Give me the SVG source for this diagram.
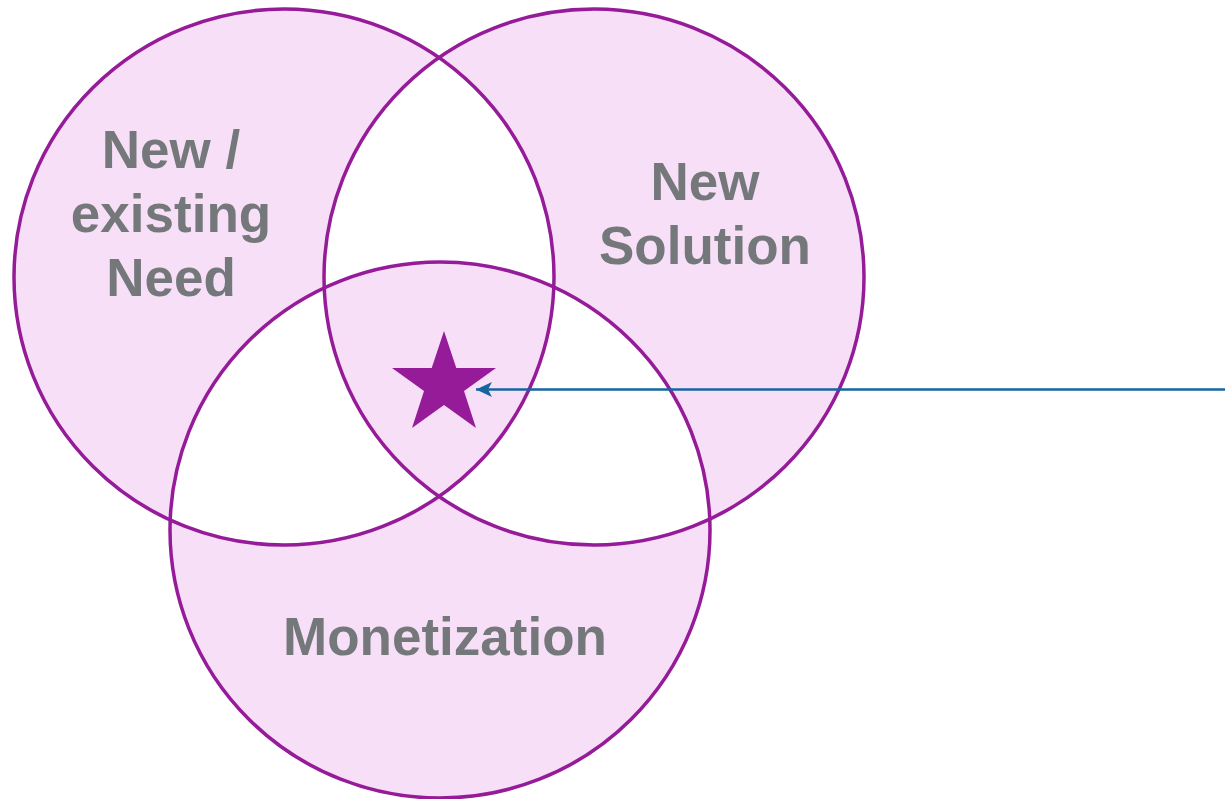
<svg xmlns="http://www.w3.org/2000/svg" width="1225" height="799" viewBox="0 0 1225 799">
<defs>
<style>
.lbl{font-family:"Liberation Sans",Arial,sans-serif;font-weight:bold;font-size:53px;fill:#75787b;text-anchor:middle}
.ring{fill:none;stroke:#951b99;stroke-width:3.5}
</style>
<marker id="ah" viewBox="0 0 10 10" refX="10" refY="5" markerWidth="16" markerHeight="15" markerUnits="userSpaceOnUse" orient="auto" preserveAspectRatio="none">
<path d="M0,0 L10,5 L0,10 L2.5,5 Z" fill="#1565a0"/>
</marker>
</defs>
<rect width="1225" height="799" fill="#ffffff"/>
<path fill="#f7dff8" fill-rule="evenodd" d="M14,277 a270,268 0 1,0 540,0 a270,268 0 1,0 -540,0 Z M324,277 a270,268 0 1,0 540,0 a270,268 0 1,0 -540,0 Z M170,530 a270,268 0 1,0 540,0 a270,268 0 1,0 -540,0 Z"/>
<g id="need">
<ellipse class="ring" cx="284" cy="277" rx="270" ry="268"/>
<text class="lbl" x="171" y="168">New /</text>
<text class="lbl" x="171" y="232">existing</text>
<text class="lbl" x="171" y="296">Need</text>
</g>
<g id="solution">
<ellipse class="ring" cx="594" cy="277" rx="270" ry="268"/>
<text class="lbl" x="705" y="200">New</text>
<text class="lbl" x="705" y="264">Solution</text>
</g>
<g id="monetization">
<ellipse class="ring" cx="440" cy="530" rx="270" ry="268"/>
<text class="lbl" x="445" y="655">Monetization</text>
</g>
<g id="star">
<polygon fill="#951b99" points="444,331 456.3,368 496,368 464,391 476,428 444,405 412,428 424,391 392,368 431.7,368"/>
</g>
<g id="connectors">
<line x1="1225" y1="389.5" x2="476" y2="389.5" stroke="#1565a0" stroke-width="2.6" marker-end="url(#ah)"/>
</g>
</svg>
